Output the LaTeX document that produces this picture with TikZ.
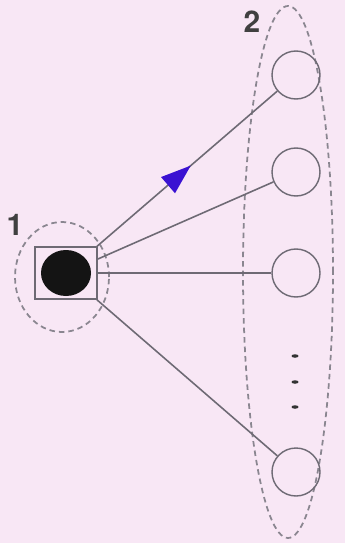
\documentclass[tikz,border=0pt]{standalone}
\usepackage{fontspec}
\setmainfont{TeX Gyre Heros}
\usepackage{tikz}
\usepackage{xcolor}
\usetikzlibrary{arrows.meta,decorations.markings}
\definecolor{bgpink}{HTML}{F8E7F5}
\definecolor{linegray}{HTML}{6E6A74}
\definecolor{dashgray}{HTML}{8A8690}
\definecolor{tipblue}{HTML}{3A12D2}
\tikzset{
    link/.style={draw=linegray,line width=0.9pt},
    peer/.style={circle,draw=linegray,line width=0.8pt,minimum size=0.96cm,inner sep=0pt},
    group/.style={draw=dashgray,line width=1pt,dash pattern=on 0.11cm off 0.08cm},
    lbl/.style={font=\fontsize{17}{17}\selectfont\bfseries,text=black!75}
}
\begin{document}
\begin{tikzpicture}
    \fill [bgpink] (0,0) rectangle (6.9,-10.86);
    \useasboundingbox (0,0) rectangle (6.9,-10.86);
    \draw [group] (1.24,-5.54) ellipse [x radius=0.94, y radius=1.1];
    \draw [group] (5.76,-5.44) ellipse [x radius=0.9, y radius=5.32];
    \node[draw=linegray,line width=0.8pt,minimum width=1.24cm,minimum height=1.04cm,inner sep=0pt] (S) at (1.32,-5.46) {};
    \fill [black!92] (S.center) ellipse [x radius=0.5, y radius=0.46];
    \node[peer] (C1) at (5.92,-1.5) {};
    \node[peer] (C2) at (5.92,-3.44) {};
    \node[peer] (C3) at (5.92,-5.46) {};
    \node[peer] (C4) at (5.92,-9.44) {};
    \draw [link,postaction={decorate},decoration={markings,
        mark=at position 0.52 with {\arrow{Triangle[length=0.6cm,width=0.42cm,fill=tipblue,color=tipblue]}}}] (S) -- (C1);
    \draw [link] (S) -- (C2);
    \draw [link] (S) -- (C3);
    \draw [link] (S) -- (C4);
    \fill [black!80] (5.9,-7.12) ellipse [x radius=0.07, y radius=0.035];
    \fill [black!80] (5.9,-7.64) ellipse [x radius=0.07, y radius=0.035];
    \fill [black!80] (5.9,-8.14) ellipse [x radius=0.07, y radius=0.035];
    \node[lbl] (L1) at (0.3,-4.5) {1};
    \node[lbl] (L2) at (5.04,-0.44) {2};
\end{tikzpicture}
\end{document}
